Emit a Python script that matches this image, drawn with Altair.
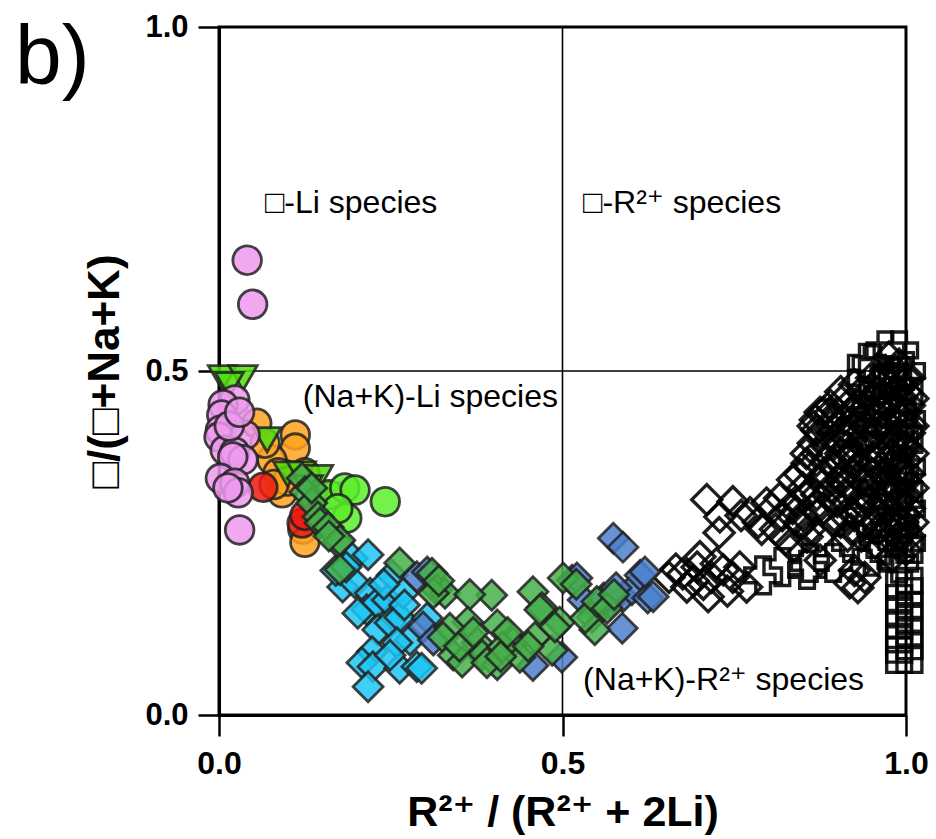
import altair as alt
import pandas as pd

# ---- measured compositions: (x = R2+/(R2+ + 2Li), y = vacancy/(vacancy+Na+K)) ----
PINK_CIRCLES = [(0.041, 0.661), (0.049, 0.597), (0.030, 0.269), (0.023, 0.458), (0.006, 0.451),
                (0.004, 0.436), (0.002, 0.414), (0.000, 0.404), (0.038, 0.407), (0.009, 0.385),
                (0.023, 0.382), (0.035, 0.371), (0.020, 0.375), (0.002, 0.344), (0.023, 0.337),
                (0.028, 0.323), (0.013, 0.330), (0.015, 0.420), (0.030, 0.440)]
GREEN_TRIANGLES = [(0.005, 0.490), (0.035, 0.490), (0.015, 0.480), (0.070, 0.400), (0.100, 0.350),
                   (0.120, 0.350), (0.145, 0.345), (0.155, 0.320), (0.140, 0.310), (0.130, 0.330)]
ORANGE_CIRCLES = [(0.055, 0.424), (0.111, 0.407), (0.111, 0.388), (0.077, 0.371), (0.086, 0.352),
                  (0.092, 0.323), (0.125, 0.352), (0.122, 0.270), (0.125, 0.251), (0.067, 0.395),
                  (0.100, 0.340), (0.080, 0.335)]
RED_CIRCLES = [(0.064, 0.331), (0.121, 0.279), (0.125, 0.290)]
LIME_CIRCLES = [(0.160, 0.320), (0.183, 0.330), (0.198, 0.327), (0.242, 0.310), (0.186, 0.286),
                (0.173, 0.300)]
CYAN_DIAMONDS = [(0.194, 0.228), (0.217, 0.233), (0.180, 0.186), (0.198, 0.192), (0.220, 0.177),
                 (0.252, 0.203), (0.215, 0.153), (0.230, 0.163), (0.245, 0.167), (0.202, 0.148),
                 (0.231, 0.124), (0.249, 0.134), (0.263, 0.142), (0.303, 0.141), (0.278, 0.109),
                 (0.259, 0.105), (0.223, 0.092), (0.208, 0.076), (0.224, 0.070), (0.263, 0.068),
                 (0.288, 0.070), (0.217, 0.041), (0.249, 0.087), (0.268, 0.177), (0.295, 0.068),
                 (0.170, 0.210), (0.240, 0.190), (0.270, 0.160), (0.185, 0.215)]
BLUE_DIAMONDS = [(0.288, 0.201), (0.303, 0.208), (0.297, 0.128), (0.312, 0.109), (0.457, 0.072),
                 (0.499, 0.084), (0.514, 0.196), (0.521, 0.199), (0.530, 0.167), (0.569, 0.163),
                 (0.574, 0.257), (0.588, 0.244), (0.587, 0.126), (0.588, 0.172), (0.601, 0.182),
                 (0.613, 0.203), (0.624, 0.170), (0.620, 0.208), (0.632, 0.172), (0.550, 0.155),
                 (0.560, 0.170), (0.578, 0.185)]
GREEN_DIAMONDS = [(0.121, 0.344), (0.125, 0.324), (0.135, 0.308), (0.144, 0.288), (0.147, 0.279),
                  (0.159, 0.273), (0.173, 0.251), (0.176, 0.254), (0.176, 0.211), (0.263, 0.221),
                  (0.310, 0.206), (0.317, 0.182), (0.329, 0.177), (0.312, 0.177), (0.397, 0.174),
                  (0.365, 0.175), (0.457, 0.179), (0.470, 0.156), (0.501, 0.199), (0.496, 0.135),
                  (0.362, 0.135), (0.336, 0.126), (0.326, 0.113), (0.405, 0.131), (0.341, 0.087),
                  (0.376, 0.105), (0.383, 0.087), (0.405, 0.073), (0.428, 0.105), (0.460, 0.113),
                  (0.485, 0.094), (0.354, 0.077), (0.438, 0.084), (0.413, 0.099), (0.467, 0.153),
                  (0.543, 0.142), (0.547, 0.124), (0.533, 0.141), (0.489, 0.128), (0.390, 0.076),
                  (0.410, 0.085), (0.520, 0.190), (0.550, 0.165), (0.565, 0.155), (0.575, 0.175),
                  (0.350, 0.100), (0.370, 0.120), (0.420, 0.120), (0.450, 0.100), (0.320, 0.195),
                  (0.135, 0.330), (0.160, 0.260)]
OPEN_DIAMONDS = [(0.655, 0.200), (0.665, 0.212), (0.675, 0.205), (0.681, 0.186), (0.690, 0.195),
                 (0.696, 0.215), (0.700, 0.230), (0.705, 0.190), (0.712, 0.172), (0.717, 0.200),
                 (0.724, 0.220), (0.734, 0.211), (0.740, 0.180), (0.748, 0.200), (0.758, 0.215),
                 (0.768, 0.186), (0.710, 0.313), (0.729, 0.288), (0.728, 0.265), (0.748, 0.310),
                 (0.760, 0.290), (0.773, 0.294), (0.785, 0.280), (0.797, 0.308), (0.790, 0.270),
                 (0.805, 0.300), (0.810, 0.270), (0.820, 0.290), (0.816, 0.315), (0.835, 0.342),
                 (0.835, 0.300), (0.845, 0.280), (0.835, 0.244), (0.856, 0.259), (0.825, 0.255),
                 (0.856, 0.366), (0.850, 0.330), (0.870, 0.414), (0.865, 0.395), (0.868, 0.429),
                 (0.889, 0.439), (0.875, 0.260), (0.875, 0.225), (0.846, 0.276),
                 (0.918, 0.192), (0.930, 0.185), (0.940, 0.200), (0.925, 0.210),
                 (0.880, 0.440), (0.890, 0.420), (0.900, 0.400), (0.910, 0.430), (0.920, 0.410),
                 (0.900, 0.370), (0.910, 0.350), (0.920, 0.380), (0.930, 0.360), (0.890, 0.330),
                 (0.900, 0.310), (0.920, 0.330), (0.930, 0.300), (0.910, 0.290), (0.940, 0.320),
                 (0.920, 0.270), (0.940, 0.280), (0.930, 0.450), (0.940, 0.420), (0.950, 0.390),
                 (0.950, 0.350), (0.870, 0.380), (0.880, 0.350), (0.860, 0.360), (0.870, 0.320),
                 (0.880, 0.300), (0.850, 0.290), (0.860, 0.270),
                 (0.970, 0.500), (0.980, 0.480), (0.990, 0.460), (1.000, 0.440), (0.970, 0.450),
                 (0.980, 0.430), (0.990, 0.410), (1.000, 0.390), (0.970, 0.400), (0.980, 0.380),
                 (0.990, 0.360), (1.000, 0.340), (0.970, 0.350), (0.980, 0.330), (0.990, 0.310),
                 (1.000, 0.290), (0.970, 0.300), (0.980, 0.280), (0.990, 0.260), (1.000, 0.240),
                 (0.960, 0.270), (0.960, 0.420), (0.960, 0.470), (0.950, 0.490), (0.990, 0.510),
                 (1.000, 0.490), (0.980, 0.230), (1.000, 0.470), (1.000, 0.420), (1.000, 0.370),
                 (1.000, 0.320), (1.000, 0.270),
                 (0.955, 0.300), (0.965, 0.330), (0.975, 0.370), (0.985, 0.400), (0.995, 0.430),
                 (0.955, 0.440), (0.965, 0.380), (0.975, 0.320), (0.985, 0.290), (0.995, 0.350),
                 (0.945, 0.370), (0.945, 0.470), (0.935, 0.400), (0.925, 0.350), (0.915, 0.320),
                 (0.905, 0.280), (0.925, 0.440), (0.985, 0.500), (0.975, 0.520), (1.005, 0.450),
                 (1.005, 0.300), (1.005, 0.260), (1.010, 0.380), (1.010, 0.420), (0.895, 0.360),
                 (0.885, 0.390), (0.875, 0.410), (0.910, 0.460), (0.900, 0.440),
                 (0.890, 0.450), (0.895, 0.430), (0.905, 0.410), (0.915, 0.390), (0.925, 0.370),
                 (0.935, 0.340), (0.945, 0.310), (0.955, 0.280), (0.965, 0.260), (0.905, 0.470),
                 (0.915, 0.450), (0.925, 0.420), (0.935, 0.430), (0.945, 0.400), (0.955, 0.370),
                 (0.965, 0.350), (0.975, 0.340), (0.985, 0.330), (0.995, 0.320), (0.955, 0.410),
                 (0.965, 0.440), (0.975, 0.460), (0.985, 0.470), (0.995, 0.480), (0.965, 0.490),
                 (0.955, 0.460), (0.945, 0.440), (0.935, 0.470), (0.925, 0.480), (0.915, 0.370),
                 (0.905, 0.340), (0.895, 0.310), (0.885, 0.320), (0.875, 0.340), (0.865, 0.300),
                 (0.895, 0.280), (0.915, 0.260), (0.935, 0.260), (0.955, 0.250), (0.975, 0.270),
                 (0.985, 0.250), (0.995, 0.280), (1.005, 0.350), (1.005, 0.410), (1.005, 0.490),
                 (1.010, 0.460), (1.010, 0.330), (1.010, 0.280), (0.975, 0.420), (0.985, 0.370),
                 (0.995, 0.390), (0.965, 0.310), (0.945, 0.340), (0.935, 0.310), (0.925, 0.290),
                 (0.915, 0.410), (0.905, 0.380), (0.885, 0.370), (0.875, 0.440), (0.865, 0.420),
                 (0.855, 0.380), (0.845, 0.350), (0.855, 0.320), (0.840, 0.310)]
OPEN_CROSSES = [(0.792, 0.203), (0.856, 0.211), (0.860, 0.221), (0.894, 0.221), (0.820, 0.215),
                (0.920, 0.250), (0.970, 0.530), (0.990, 0.530), (0.950, 0.510), (0.960, 0.480),
                (1.000, 0.500), (0.980, 0.450), (0.990, 0.400), (1.000, 0.360), (0.980, 0.310),
                (0.990, 0.270), (1.000, 0.250), (0.970, 0.240), (0.990, 0.220), (0.960, 0.250),
                (0.950, 0.230), (0.943, 0.512), (0.943, 0.490),
                (0.930, 0.420), (0.950, 0.450), (0.970, 0.380), (0.960, 0.330), (0.940, 0.290),
                (1.000, 0.300), (0.980, 0.490), (1.000, 0.430), (0.990, 0.350)]
OPEN_SQUARES = [(0.990, 0.080), (1.005, 0.080), (0.990, 0.095), (1.005, 0.100), (0.990, 0.110),
                (1.005, 0.120), (0.990, 0.130), (1.005, 0.140), (0.990, 0.150), (1.005, 0.160),
                (0.990, 0.170), (1.005, 0.180), (0.990, 0.190), (1.005, 0.195),
                (0.990, 0.250), (1.005, 0.240), (0.995, 0.280), (1.005, 0.320), (0.990, 0.360),
                (1.005, 0.400), (0.995, 0.440), (1.005, 0.470), (0.980, 0.490)]

# series fill colours
PINK = "#EE99EE"
BRIGHT_GREEN = "#4FDD0A"
ORANGE = "#FFA21F"
RED = "#EE1A10"
LIME = "#5CEE2A"
CYAN = "#1FC6F4"
STEEL_BLUE = "#4C80CC"
GREEN = "#45B04A"

# quadrant labels: (text, x, y) in data units, left-aligned at the baseline
QUADRANT_LABELS = [("□-Li species", 0.067, 0.730),
                   ("□-R²⁺ species", 0.530, 0.730),
                   ("(Na+K)-Li species", 0.122, 0.447),
                   ("(Na+K)-R²⁺ species", 0.530, 0.036)]
PANEL_TAG = [("b)", -0.297, 0.917)]

FONT = "Liberation Sans, DejaVu Sans, sans-serif"
X_SCALE = alt.Scale(domain=[0, 1], nice=False, zero=False)
Y_SCALE = alt.Scale(domain=[0, 1], nice=False, zero=False)


def frame(points):
    return pd.DataFrame(points, columns=["x", "y"])


def filled_layer(points, shape, color, size):
    return alt.Chart(frame(points)).mark_point(
        shape=shape, filled=True, size=size, fill=color, fillOpacity=0.85,
        stroke="#222222", strokeWidth=2.8, strokeOpacity=0.85,
    ).encode(x=alt.X("x:Q", scale=X_SCALE), y=alt.Y("y:Q", scale=Y_SCALE))


def open_layer(points, shape, size):
    return alt.Chart(frame(points)).mark_point(
        shape=shape, filled=False, size=size, color="black",
        strokeWidth=3.4, opacity=0.88,
    ).encode(x=alt.X("x:Q", scale=X_SCALE), y=alt.Y("y:Q", scale=Y_SCALE))


x_axis = alt.Axis(
    values=[0, 0.5, 1], format=".1f", grid=False,
    title="R²⁺ / (R²⁺ + 2Li)", titleFont=FONT, titleFontSize=43, titleFontWeight="bold",
    titleColor="black", titlePadding=12,
    labelFont=FONT, labelFontSize=32, labelFontWeight="bold", labelColor="black",
    labelPadding=12, labelFlush=False, labelOverlap=False,
    tickSize=21, tickWidth=2.5, tickColor="black",
    domainColor="black", domainWidth=3,
)
y_axis = alt.Axis(
    values=[0, 0.5, 1], format=".1f", grid=False,
    title="□/(□+Na+K)", titleFont=FONT, titleFontSize=44, titleFontWeight="bold",
    titleColor="black", titlePadding=17,
    labelFont=FONT, labelFontSize=31, labelFontWeight="bold", labelColor="black",
    labelPadding=10, labelFlush=False, labelOverlap=False,
    tickSize=21, tickWidth=2.5, tickColor="black",
    domainColor="black", domainWidth=3,
)

axes = alt.Chart(frame([(0, 0), (1, 1)])).mark_point(opacity=0).encode(
    x=alt.X("x:Q", scale=X_SCALE, axis=x_axis),
    y=alt.Y("y:Q", scale=Y_SCALE, axis=y_axis),
)

vline = alt.Chart(pd.DataFrame({"x": [0.5]})).mark_rule(color="black", strokeWidth=1.6).encode(
    x=alt.X("x:Q", scale=X_SCALE))
hline = alt.Chart(pd.DataFrame({"y": [0.5]})).mark_rule(color="black", strokeWidth=1.6).encode(
    y=alt.Y("y:Q", scale=Y_SCALE))

labels = alt.Chart(pd.DataFrame(QUADRANT_LABELS, columns=["t", "x", "y"])).mark_text(
    font=FONT, fontSize=32, align="left", baseline="alphabetic", color="black",
).encode(x=alt.X("x:Q", scale=X_SCALE), y=alt.Y("y:Q", scale=Y_SCALE), text="t:N")

tag = alt.Chart(pd.DataFrame(PANEL_TAG, columns=["t", "x", "y"])).mark_text(
    font=FONT, fontSize=84, align="left", baseline="alphabetic", color="black",
).encode(x=alt.X("x:Q", scale=X_SCALE), y=alt.Y("y:Q", scale=Y_SCALE), text="t:N")

chart = alt.layer(
    axes, vline, hline, labels, tag,
    open_layer(OPEN_DIAMONDS, "diamond", 900),
    open_layer(OPEN_CROSSES, "cross", 1350),
    open_layer(OPEN_SQUARES, "square", 620),
    filled_layer(ORANGE_CIRCLES, "circle", ORANGE, 820),
    filled_layer(RED_CIRCLES, "circle", RED, 820),
    filled_layer(GREEN_TRIANGLES, "triangle-down", BRIGHT_GREEN, 800),
    filled_layer(PINK_CIRCLES, "circle", PINK, 820),
    filled_layer(LIME_CIRCLES, "circle", LIME, 820),
    filled_layer(CYAN_DIAMONDS, "diamond", CYAN, 900),
    filled_layer(BLUE_DIAMONDS, "diamond", STEEL_BLUE, 900),
    filled_layer(GREEN_DIAMONDS, "diamond", GREEN, 900),
).properties(
    width=687, height=688,
    padding={"left": 219, "top": 27, "right": 30, "bottom": 124},
    autosize=alt.AutoSizeParams(type="none"),
    background="white",
).configure_view(stroke="black", strokeWidth=3)

chart.save("out.html", embed_options={"renderer": "svg", "actions": False})
